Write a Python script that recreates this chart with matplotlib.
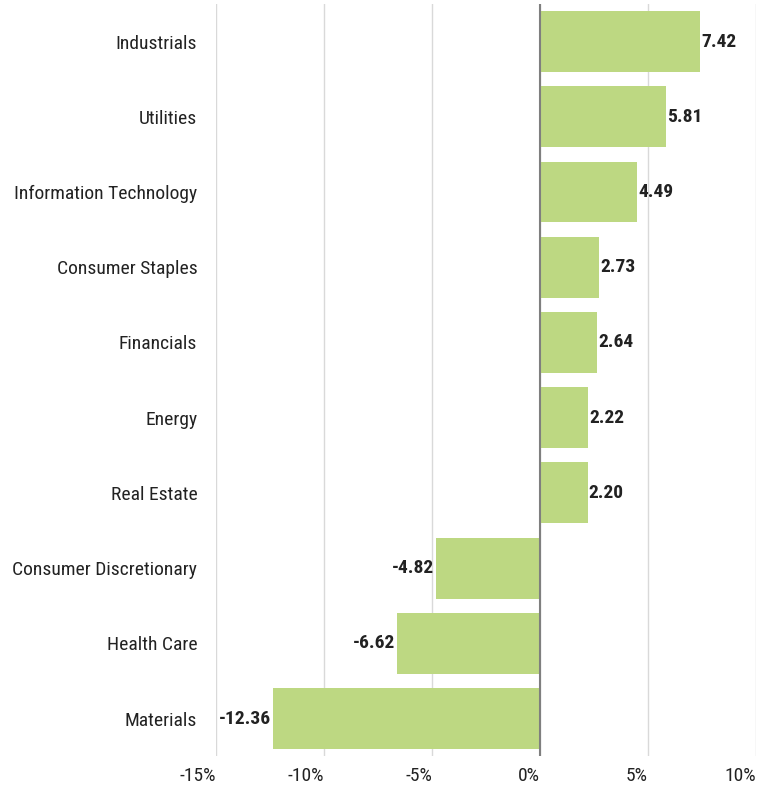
import matplotlib
matplotlib.use("Agg")
import matplotlib.pyplot as plt
from matplotlib.ticker import FuncFormatter

plt.rcParams["font.family"] = ["Roboto Condensed", "DejaVu Sans"]

# Sector returns (%), top to bottom as shown
sectors = [
    "Industrials",
    "Utilities",
    "Information Technology",
    "Consumer Staples",
    "Financials",
    "Energy",
    "Real Estate",
    "Consumer Discretionary",
    "Health Care",
    "Materials",
]
returns = [7.42, 5.81, 4.49, 2.73, 2.64, 2.22, 2.20, -4.82, -6.62, -12.36]
x_ticks = [-15, -10, -5, 0, 5, 10]

BAR_COLOR = "#BDD882"
FS = 14

fig = plt.figure(figsize=(7.66, 7.86), dpi=100)
ax = fig.add_axes([0.282, 0.038, 0.705, 0.957])

ypos = list(range(len(sectors)))
ax.barh(ypos, returns, height=0.81, color=BAR_COLOR, zorder=2)

# value labels next to the bar ends
for y, v in zip(ypos, returns):
    if v >= 0:
        ax.text(v + 0.05, y, f"{v:.2f}", va="center", ha="left",
                fontsize=FS, fontweight="bold", color="#222222")
    else:
        ax.text(v - 0.1, y, f"{v:.2f}", va="center", ha="right",
                fontsize=FS, fontweight="bold", color="#222222")

ax.set_xlim(-15, 10)
ax.set_ylim(len(sectors) - 0.5, -0.5)
ax.set_xticks(x_ticks)
ax.xaxis.set_major_formatter(FuncFormatter(lambda x, pos: f"{x:.0f}%"))
ax.set_yticks(ypos)
ax.set_yticklabels(sectors)

ax.grid(axis="x", color="#D9D9D9", linewidth=1, zorder=0)
ax.axvline(0, color="#7F7F7F", linewidth=1.5, zorder=3)

for s in ax.spines.values():
    s.set_visible(False)
ax.tick_params(axis="both", length=0, labelsize=FS, colors="#222222")
ax.tick_params(axis="y", pad=13.5)
ax.tick_params(axis="x", pad=8)

# x labels sit just left of their grid line, as in the original
for lab in ax.get_xticklabels():
    lab.set_horizontalalignment("right")

fig.savefig("out.png", dpi=100)
